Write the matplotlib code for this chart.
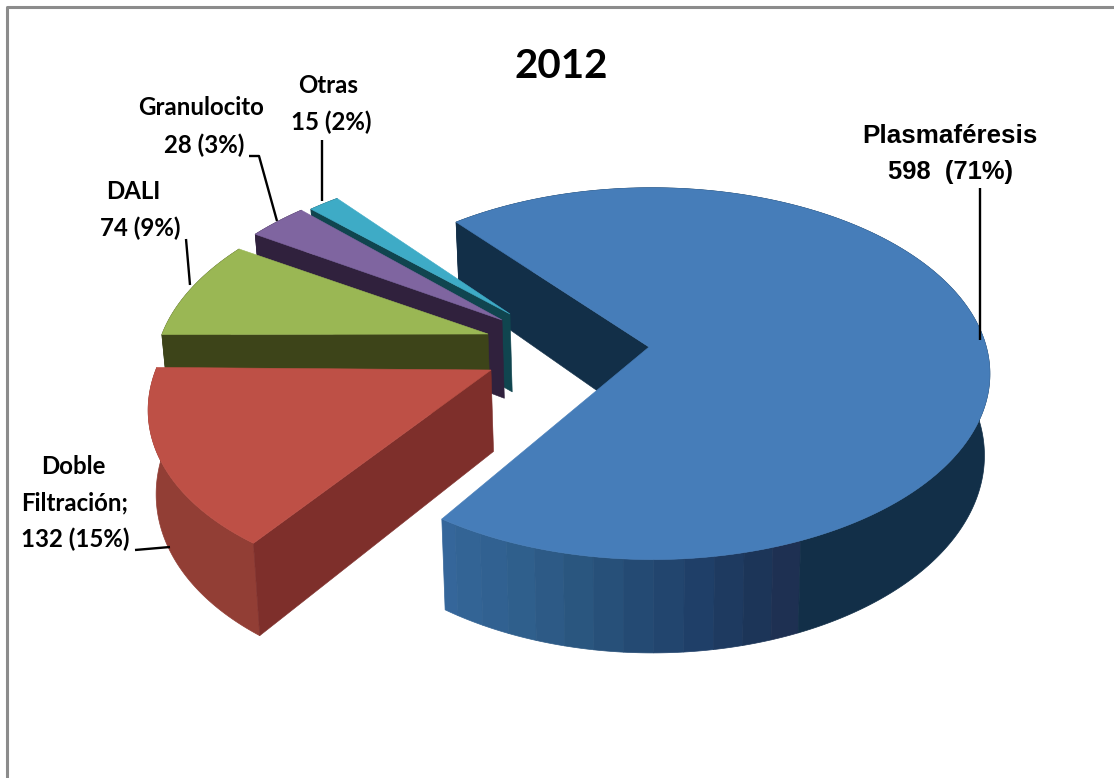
import numpy as np
import matplotlib
matplotlib.use("Agg")
import matplotlib.pyplot as plt
from matplotlib.patches import Polygon
from matplotlib.colors import to_rgb

# ---- data ----
names = ["Plasmaféresis", "Otras", "Granulocito", "DALI", "Doble\nFiltración;"]
values = [598, 15, 28, 74, 132]
percents = [71, 2, 3, 9, 15]
title = "2012"

# ---- style ----
top_colors = ["#467DB9", "#3EABC6", "#7F65A0", "#9AB754", "#BE5046"]
face_colors = ["#122F48", "#10454F", "#30213D", "#3D4419", "#7E2F2B"]
side_stops = [
    [(236, "#35669A"), (250, "#2F5F8C"), (262, "#28527A"), (275, "#20416B"), (286, "#1C3558"), (292.9, "#1F2D4F"), (293, "#122F48"), (500, "#122F48")],
    [(0, "#10454F"), (500, "#10454F")],
    [(0, "#30213D"), (500, "#30213D")],
    [(0, "#3D4419"), (500, "#3D4419")],
    [(170, "#A55C48"), (198, "#A55C48"), (200, "#A53E3A"), (215, "#9C3C3A"), (228, "#9C4039"), (237, "#923E35")],
]
apex_px = [(649, 347), (510, 314), (502, 320), (488, 334), (491, 370)]
radii = [0.995, 0.965, 0.99, 0.98, 0.98]
angle_shift = [0, 0, -0.8, 0, -1]
arc_shift_u = [0.009, 0, 0, 0, 0]
angle_start = 236.3
band_step = 4.5
X0, Y0, RX, RY, KP, DEPTH, LEAN = 649, 347, 336, 183, 0.144, 80, 0.016


def project(u, v, z=0.0):
    w = 1 + KP * v
    sx = X0 + RX * u / w
    sy = Y0 - RY * v / w + DEPTH * z / w
    return sx + (X0 - sx) * LEAN * z, sy


def unproject(sx, sy):
    vw = (Y0 - sy) / RY
    v = vw / (1 - KP * vw)
    return (sx - X0) / RX * (1 + KP * v), v


def shade(stops, a):
    a_s = [s[0] for s in stops]
    rgb = np.array([to_rgb(s[1]) for s in stops])
    return tuple(np.interp(a, a_s, rgb[:, i]) for i in range(3))


fig = plt.figure(figsize=(11.14, 7.78), dpi=100)
ax = fig.add_axes([0, 0, 1, 1])
ax.set_xlim(0, 1114)
ax.set_ylim(778, 0)
ax.axis("off")

# frame: left and top edges are what the crop shows
ax.plot([6.5, 6.5, 1114], [778, 7, 7], color="#8C8C8C", lw=2.2, zorder=1)

spans = np.array(values) / sum(values) * 360
a = angle_start
for i, span in enumerate(spans):
    a1, a2 = a + angle_shift[i], a + span + angle_shift[i]
    a = a + span
    au, av = unproject(*apex_px[i])
    deg = np.linspace(a1, a2, int(span * 2) + 3)
    t = np.radians(deg)
    ou = au + arc_shift_u[i] + radii[i] * np.cos(t)
    ov = av + radii[i] * np.sin(t)
    z = 5 + i * 3
    # outer wall: flat colour bands, neighbours of equal colour merged
    seg_colors = [shade(side_stops[i], (np.floor(d / band_step) + 0.5) * band_step) for d in deg[:-1]]
    start = 0
    for j in range(1, len(seg_colors) + 1):
        if j == len(seg_colors) or seg_colors[j] != seg_colors[start]:
            ids = np.arange(start, j + 1)
            upper = [project(ou[m], ov[m]) for m in ids]
            lower = [project(ou[m], ov[m], 1) for m in ids[::-1]]
            c = seg_colors[start]
            ax.add_patch(Polygon(upper + lower, closed=True, fc=c, ec=c, lw=0.5, zorder=z))
            start = j
    # cut face at the end of the slice
    p = [project(au, av), project(ou[-1], ov[-1]), project(ou[-1], ov[-1], 1), project(au, av, 1)]
    ax.add_patch(Polygon(p, closed=True, fc=face_colors[i], ec=face_colors[i], lw=0.4, zorder=z + 1))
    # top surface
    xy = [project(au, av)] + [project(x, y) for x, y in zip(ou, ov)]
    ax.add_patch(Polygon(xy, closed=True, fc=top_colors[i], ec=top_colors[i], lw=0.4, zorder=z + 2))

# leader lines
leaders = [
    [(980, 188), (980, 340)],
    [(322, 140), (322, 201)],
    [(249, 156), (259, 156), (277, 221)],
    [(186, 239), (190, 285)],
    [(135, 550), (170, 547)],
]
for path in leaders:
    xs, ys = zip(*path)
    ax.plot(xs, ys, color="black", lw=1.7, zorder=30, solid_capstyle="butt")


def lab(s, x, y, family="Lato", weight="bold", size=17.3):
    ax.text(x, y, s, family=family, weight=weight, fontsize=size, ha="center", va="center",
            color="black", zorder=31)


lab(names[0], 950, 136, "Liberation Sans", "bold", 18.7)
lab(f"{values[0]}  ({percents[0]}%)", 950, 172, "Liberation Sans", "bold", 18.4)
lab(names[1], 328, 85)
lab(f"{values[1]} ({percents[1]}%)", 331, 122)
lab(names[2], 201, 107)
lab(f"{values[2]} ({percents[2]}%)", 204, 145)
lab(names[3], 133, 191)
lab(f"{values[3]} ({percents[3]}%)", 140, 228)
doble, filt = names[4].split("\n")
lab(doble, 73, 466)
lab(filt, 75, 503)
lab(f"{values[4]} ({percents[4]}%)", 75, 539)

ax.text(561, 66, title, family="Lato", weight="bold", fontsize=29, ha="center", va="center",
        color="black", zorder=31)

fig.savefig("out.png", dpi=100)
